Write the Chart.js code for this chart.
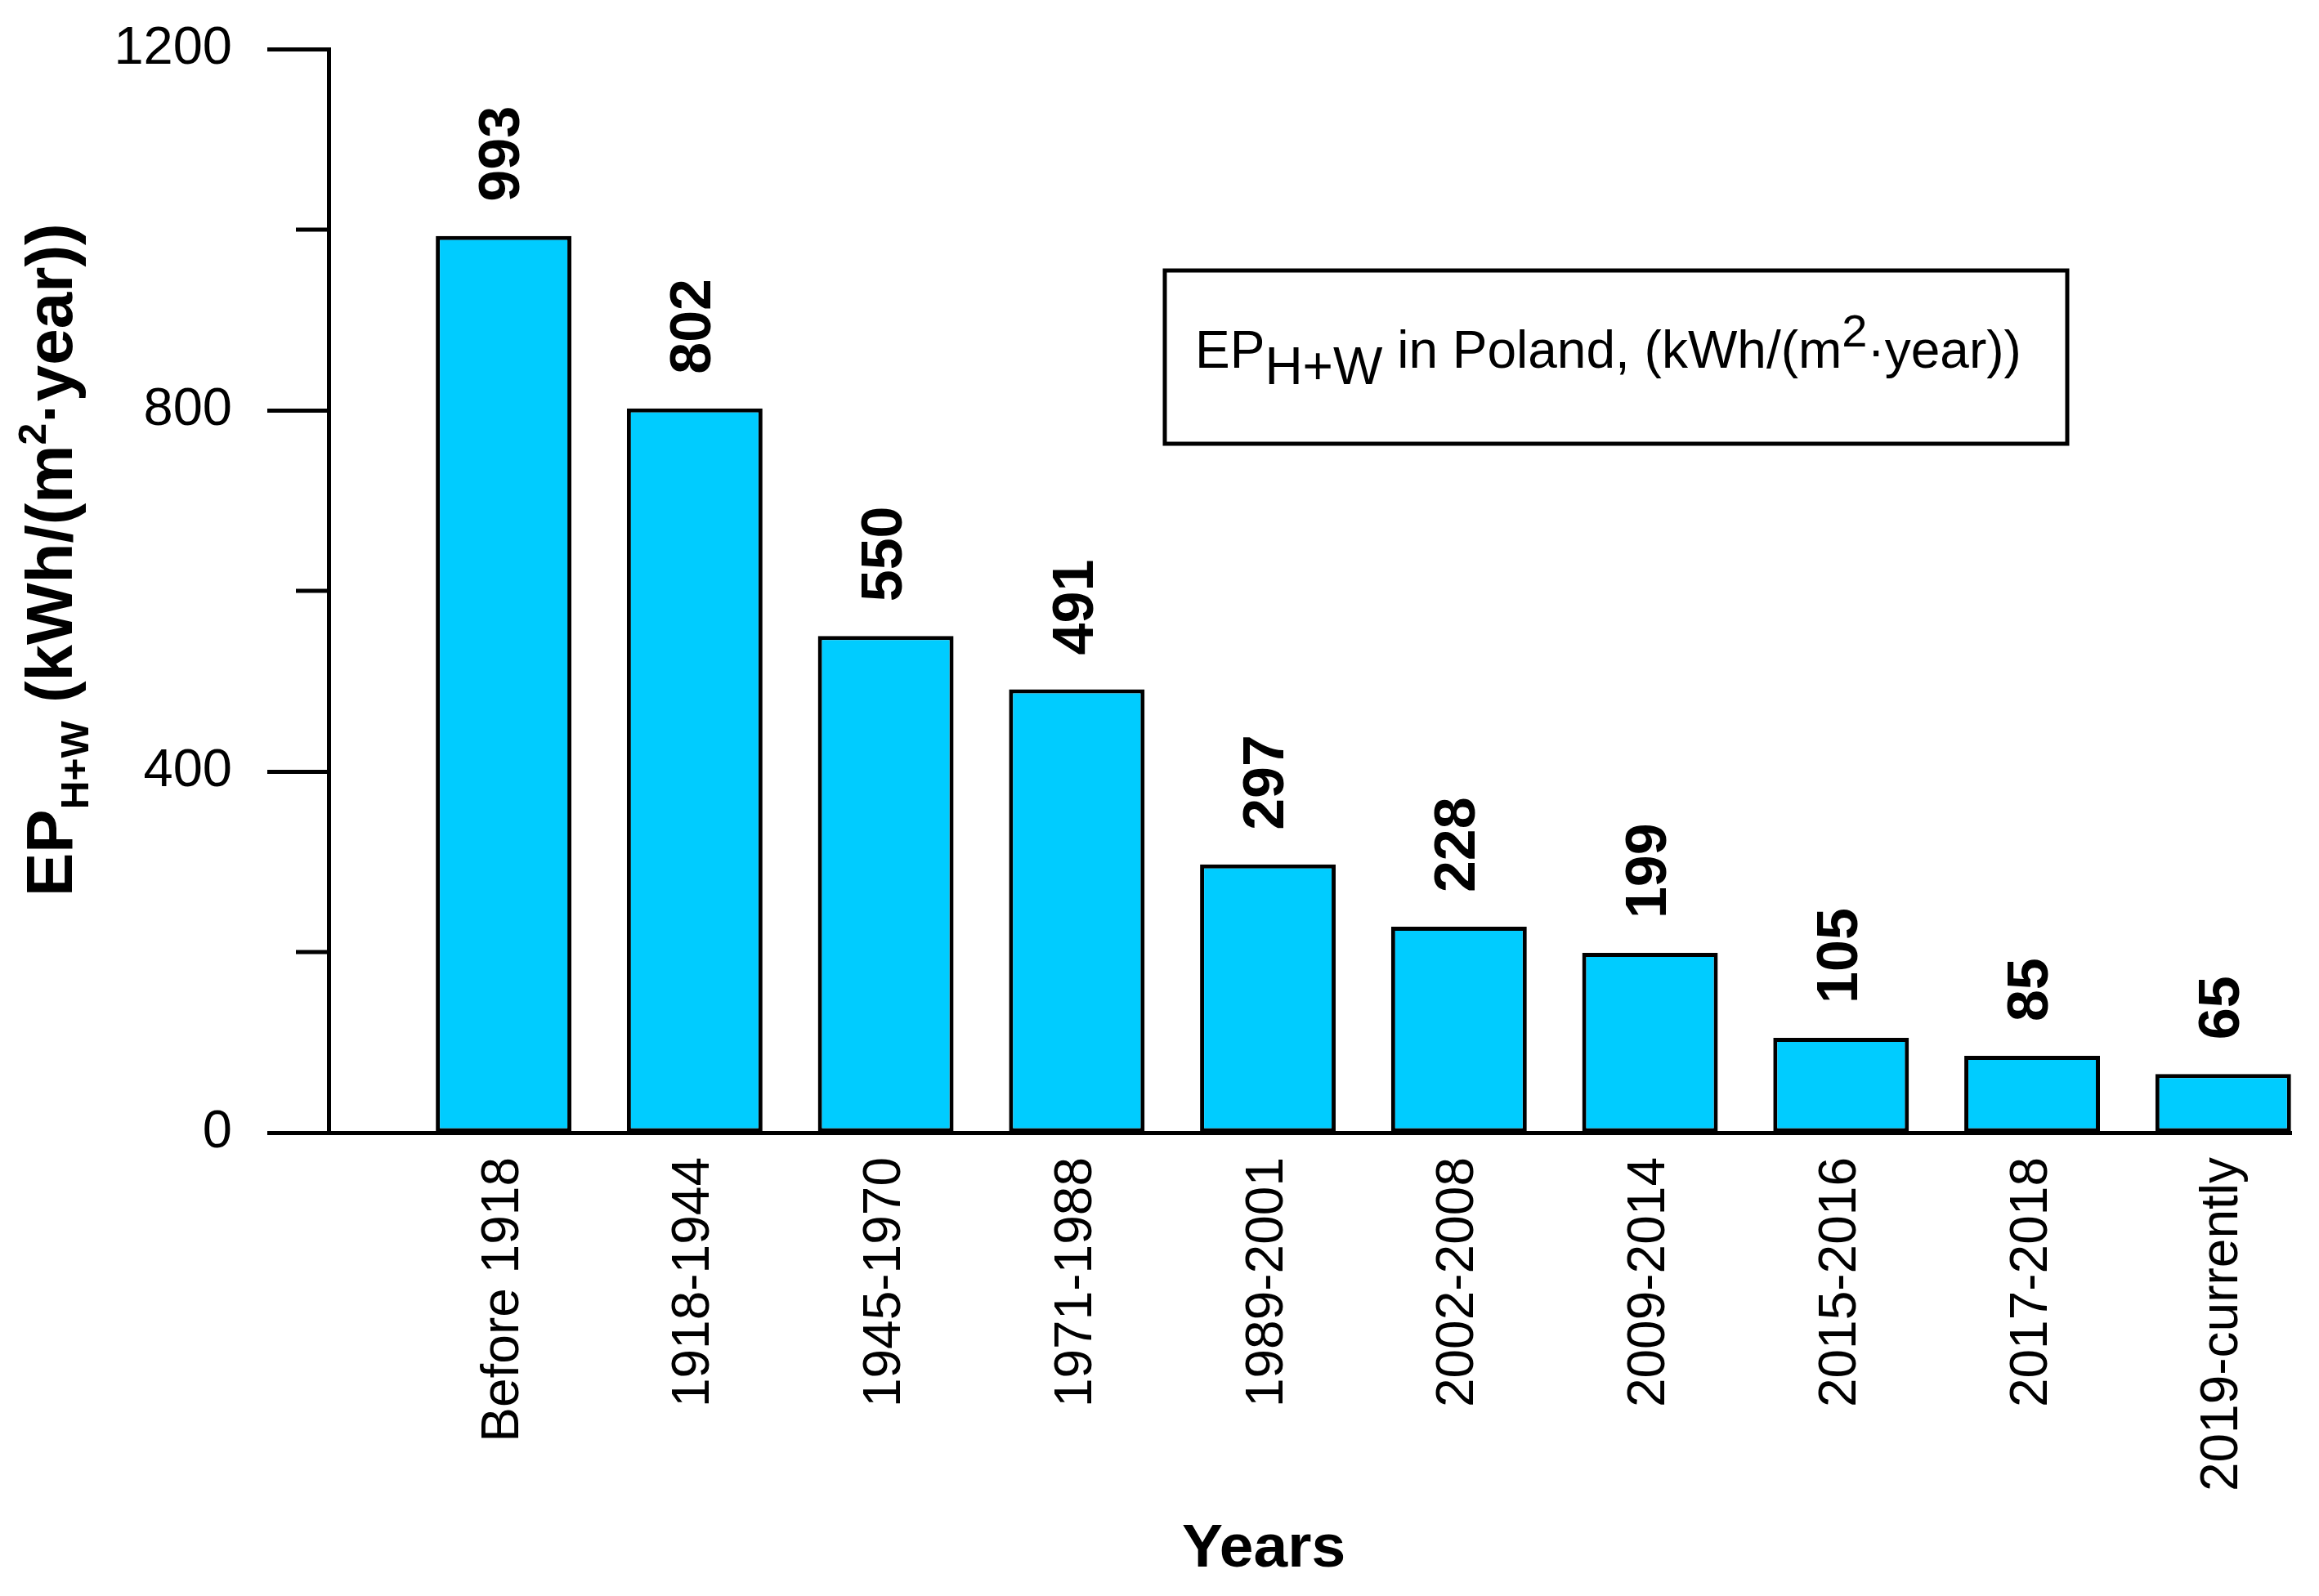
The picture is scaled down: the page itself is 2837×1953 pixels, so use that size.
<!DOCTYPE html>
<html>
<head>
<meta charset="utf-8">
<script src="https://cdn.jsdelivr.net/npm/chart.js@4.4.1/dist/chart.umd.min.js"></script>
<style>
  html, body { margin: 0; padding: 0; background: #fff; }
  canvas { display: block; }
</style>
</head>
<body>
<canvas id="epChart" width="2837" height="1953"></canvas>
<script>
// ---------- Data ----------

const categories = ['Before 1918', '1918-1944', '1945-1970', '1971-1988', '1989-2001',
                    '2002-2008', '2009-2014', '2015-2016', '2017-2018', '2019-currently'];
const epValues = [993, 802, 550, 491, 297, 228, 199, 105, 85, 65];
const majorTicks = [0, 400, 800, 1200];
const minorTicks = [200, 600, 1000];

const FONT = "'Liberation Sans', Arial, sans-serif";

// ---------- Helpers ----------

// draws a run of text pieces: [text, size, weight, baselineShift]
function drawRuns(ctx, runs, x, y) {
    let cx = x;
    runs.forEach(([text, size, weight, shift]) => {
        ctx.font = `${weight} ${size}px ${FONT}`;
        ctx.fillText(text, cx, y + shift);
        cx += ctx.measureText(text).width;
    });
}

// ---------- Plugin: minor ticks, bar values, titles, text box ----------

const extras = {
    id: 'extras',
    afterDraw(chart) {
        const ctx = chart.ctx;
        const yScale = chart.scales.y;
        const left = chart.chartArea.left;

        ctx.save();
        ctx.strokeStyle = '#000';
        ctx.fillStyle = '#000';

        // minor ticks
        ctx.lineWidth = 5;
        minorTicks.forEach(v => {
            const py = yScale.getPixelForValue(v);
            ctx.beginPath();
            ctx.moveTo(left - 40, py);
            ctx.lineTo(left, py);
            ctx.stroke();
        });

        // value labels above bars, rotated
        const meta = chart.getDatasetMeta(0);
        ctx.font = `bold 70px ${FONT}`;
        ctx.textAlign = 'left';
        ctx.textBaseline = 'middle';
        meta.data.forEach((bar, i) => {
            ctx.save();
            ctx.translate(bar.x, bar.y - 42);
            ctx.rotate(-Math.PI / 2);
            ctx.fillText(String(epValues[i]), 0, 0);
            ctx.restore();
        });

        // y axis title with subscript / superscript
        ctx.save();
        ctx.translate(88, 1097);
        ctx.rotate(-Math.PI / 2);
        ctx.textBaseline = 'alphabetic';
        drawRuns(ctx, [
            ['EP', 80, 'bold', 0],
            ['H+W', 48, 'bold', 20],
            [' (kWh/(m', 80, 'bold', 0],
            ['2', 48, 'bold', -32],
            ['\u00B7year))', 80, 'bold', 0]
        ], 0, 0);
        ctx.restore();

        // x axis title
        ctx.font = `bold 75px ${FONT}`;
        ctx.textAlign = 'center';
        ctx.textBaseline = 'alphabetic';
        ctx.fillText('Years', 1546, 1917);

        // text box
        ctx.textAlign = 'left';
        ctx.lineWidth = 5;
        ctx.strokeRect(1425, 331, 1104, 212);
        drawRuns(ctx, [
            ['EP', 64, 'normal', 0],
            ['H+W', 64, 'normal', 20],
            [' in Poland, (kWh/(m', 64, 'normal', 0],
            ['2', 56, 'normal', -26],
            ['\u00B7year))', 64, 'normal', 0]
        ], 1462, 450);

        ctx.restore();
    }
};

// ---------- Chart ----------

Chart.defaults.font.family = FONT;
Chart.defaults.color = '#000';

const ctx = document.getElementById('epChart').getContext('2d');

new Chart(ctx, {
    type: 'bar',
    data: {
        datasets: [{
            data: epValues.map((v, i) => ({ x: i, y: v })),
            backgroundColor: '#00CCFF',
            borderColor: '#000',
            borderWidth: 5,
            borderSkipped: false,
            categoryPercentage: 0.71,
            barPercentage: 1.0
        }]
    },
    options: {
        responsive: false,
        animation: false,
        devicePixelRatio: 1,
        layout: { padding: { top: 60, right: 34, left: 0, bottom: 0 } },
        plugins: {
            legend: { display: false },
            tooltip: { enabled: false }
        },
        scales: {
            x: {
                type: 'linear',
                offset: false,
                min: -0.916,
                max: 9.356,
                afterBuildTicks: scale => {
                    scale.ticks = categories.map((_, i) => ({ value: i }));
                },
                afterFit: scale => {
                    scale.height = 567;
                    scale.paddingLeft = 0;
                    scale.paddingRight = 0;
                },
                grid: { display: false, drawTicks: false },
                border: { display: true, color: '#000', width: 5 },
                ticks: {
                    autoSkip: false,
                    minRotation: 90,
                    maxRotation: 90,
                    padding: 30,
                    font: { size: 64 },
                    callback: value => categories[value]
                }
            },
            y: {
                min: 0,
                max: 1200,
                afterBuildTicks: scale => {
                    scale.ticks = majorTicks.map(v => ({ value: v }));
                },
                afterFit: scale => {
                    scale.width = 402;
                    scale.paddingTop = 0;
                    scale.paddingBottom = 0;
                },
                grid: {
                    drawOnChartArea: false,
                    drawTicks: true,
                    tickLength: 75,
                    tickWidth: 5,
                    tickColor: '#000'
                },
                border: { display: true, color: '#000', width: 5 },
                ticks: {
                    padding: 43,
                    font: { size: 65 },
                    callback: value => String(value)
                }
            }
        }
    },
    plugins: [extras]
});
</script>
</body>
</html>
